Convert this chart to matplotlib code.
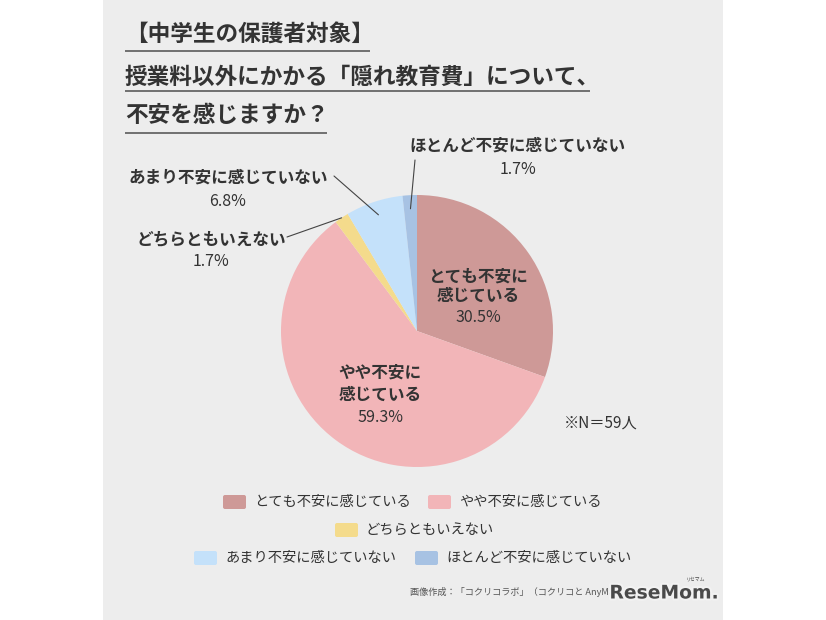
import matplotlib
matplotlib.use("Agg")
import matplotlib.pyplot as plt
from matplotlib.patches import Rectangle, FancyBboxPatch
import matplotlib.patheffects as pe
import numpy as np

plt.rcParams['font.family'] = ['Noto Sans CJK JP', 'DejaVu Sans']

# ---- data ----
categories = ["とても不安に感じている", "やや不安に感じている", "どちらともいえない",
              "あまり不安に感じていない", "ほとんど不安に感じていない"]
values = [30.5, 59.3, 1.7, 6.8, 1.7]
colors = ["#CE9997", "#F2B5B8", "#F4DB8C", "#C4E1FA", "#A7C2E3"]
title_lines = ["【中学生の保護者対象】",
               "授業料以外にかかる「隠れ教育費」について、",
               "不安を感じますか？"]
note = "※N＝59人"
footer = "画像作成：「コクリコラボ」（コクリコと AnyMaMa"

W, H = 826, 620
TXT = "#333333"
fig = plt.figure(figsize=(W / 100, H / 100), dpi=100, facecolor="white")

# background card
bg = fig.add_axes([0, 0, 1, 1], zorder=0)
bg.set_xlim(0, W); bg.set_ylim(H, 0); bg.axis("off")
bg.add_patch(Rectangle((103, 0), 620, H, facecolor="#EDEDED", edgecolor="none"))

# pie
cx, cy, r = 417, 331, 136
ax = fig.add_axes([(cx - r) / W, (H - cy - r) / H, 2 * r / W, 2 * r / H], zorder=1)
wedges, _ = ax.pie(values, colors=colors, startangle=90, counterclock=False,
                   wedgeprops=dict(linewidth=0))
ax.set_xlim(-1, 1); ax.set_ylim(-1, 1); ax.axis("off")

ov = fig.add_axes([0, 0, 1, 1], zorder=2)
ov.set_xlim(0, W); ov.set_ylim(H, 0); ov.axis("off"); ov.patch.set_alpha(0)

# title
title_y = [35, 77, 115]
ul_y = [50.5, 90.5, 132.5]
ul_x2 = [370, 590, 327]
for t, y, uy, x2 in zip(title_lines, title_y, ul_y, ul_x2):
    ov.text(125, y, t, fontsize=16.3, fontweight="bold", color=TXT, ha="left", va="center")
    ov.plot([125, x2], [uy, uy], color="#666666", lw=1.3, solid_capstyle="butt")

# inside labels
def pct(v):
    return f"{v:.1f}%"

ov.text(478, 277, "とても不安に", fontsize=12, fontweight="bold", color=TXT, ha="center", va="center")
ov.text(478, 296, "感じている", fontsize=12, fontweight="bold", color=TXT, ha="center", va="center")
ov.text(478, 317, pct(values[0]), fontsize=11.5, color=TXT, ha="center", va="center")
ov.text(380, 373, "やや不安に", fontsize=12, fontweight="bold", color=TXT, ha="center", va="center")
ov.text(380, 395, "感じている", fontsize=12, fontweight="bold", color=TXT, ha="center", va="center")
ov.text(380, 417, pct(values[1]), fontsize=11.5, color=TXT, ha="center", va="center")

# outside labels with leader lines
outside = [
    (2, (211, 239), (287, 237), 1.0),
    (3, (228, 178), (334, 176), 0.9),
    (4, (518, 146), (415, 160), 0.9),
]
for idx, (tx, ty), (lx, ly), rr in outside:
    w = wedges[idx]
    mid = np.deg2rad((w.theta1 + w.theta2) / 2)
    px, py = rr * np.cos(mid), rr * np.sin(mid)
    ax.annotate("", xy=(px, py), xycoords="data", xytext=(lx, ly), textcoords=ov.transData,
                arrowprops=dict(arrowstyle="-", color="#444444", lw=0.8, shrinkA=0, shrinkB=0),
                annotation_clip=False)
    ov.text(tx, ty, categories[idx], fontsize=12, fontweight="bold", color=TXT, ha="center", va="center")
    ov.text(tx, ty + 23, pct(values[idx]), fontsize=11.5, color=TXT, ha="center", va="center")

ov.text(601, 423, note, fontsize=11, color=TXT, ha="center", va="center")

# legend
legend_items = [
    (0, 223, 502), (1, 428, 502),
    (2, 335, 530),
    (3, 194, 558), (4, 415, 558),
]
for idx, x, y in legend_items:
    ov.add_patch(FancyBboxPatch((x, y - 7), 23, 14, boxstyle="round,pad=0,rounding_size=2",
                                facecolor=colors[idx], edgecolor="none"))
    ov.text(x + 31, y, categories[idx], fontsize=10.3, color=TXT, ha="left", va="center")

# footer
ov.text(410, 592, footer, fontsize=6.6, color="#555555", ha="left", va="center", zorder=1)
logo = ov.text(664, 593, "ReseMom.", fontsize=13.5, fontweight="bold", color="#4a4a4a",
               ha="center", va="center", family="DejaVu Sans", zorder=3)
logo.set_path_effects([pe.withStroke(linewidth=3, foreground="#f2f2f2")])
ov.text(696, 579, "リセマム", fontsize=3.5, color="#4a4a4a", ha="center", va="center", zorder=3)

fig.savefig("out.png", dpi=100, facecolor="white")
